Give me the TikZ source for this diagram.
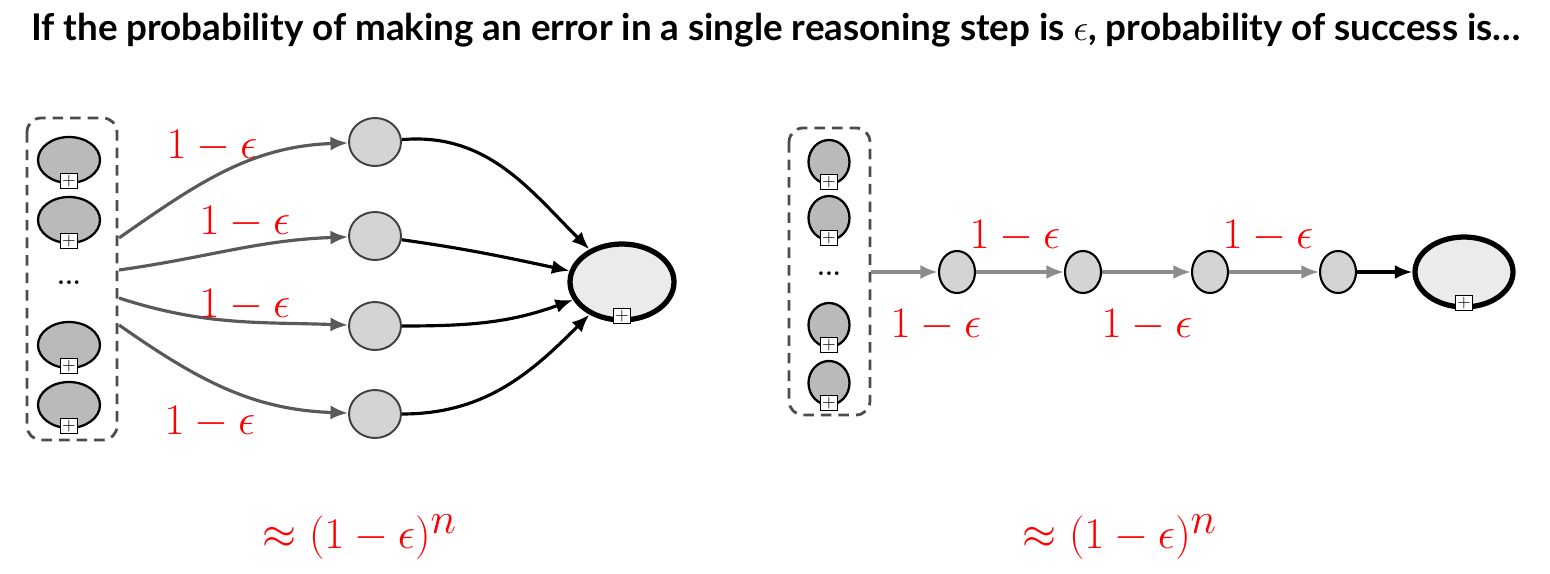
\documentclass[tikz,border=0pt]{standalone}
\usepackage{fontspec}
\setsansfont{Lato}
\usepackage{amsmath}
\usetikzlibrary{arrows.meta,shapes.geometric}
\begin{document}
\begin{tikzpicture}[x=0.02cm,y=-0.02cm,
  pbox/.style={draw,fill=white,inner sep=0.8pt,font=\normalsize},
  garr/.style={-{Latex[length=10pt,width=8pt]},draw=black!65,line width=1.8pt},
  larr/.style={-{Latex[length=10pt,width=8pt]},draw=black!45,line width=1.8pt},
  barr/.style={-{Latex[length=10pt,width=8pt]},line width=1.8pt},
  lab/.style={text=red,font=\fontsize{24}{28}\selectfont},
  dbox/.style={draw=black!70,dash pattern=on 6pt off 4pt,line width=1.6pt,rounded corners=8pt}]
\useasboundingbox (0,0) rectangle (1550,574);
\node (t) at (776,30) {\resizebox{29.8cm}{!}{\sffamily\bfseries If the probability of making an error in a single reasoning step is $\epsilon$, probability of success is\ldots}};
% left group
\draw[dbox] (27,118) rectangle (117,440);
\foreach \y/\n in {160/a,220/b,345/c,405/d}{
  \node[ellipse,draw,line width=1.3pt,fill=black!27,minimum width=1.24cm,minimum height=0.92cm,inner sep=0pt] (L\n) at (69,\y) {};
  \node[pbox] (Lp\n) at (69,\y+21) {$+$};}
\node[font=\Large\bfseries] (ld) at (69,283) {...};
\foreach \y/\n in {142/1,236/2,326/3,414/4}
  \node[ellipse,draw=black!75,line width=1.1pt,fill=black!17,minimum width=1.04cm,minimum height=0.96cm,inner sep=0pt] (M\n) at (375,\y) {};
\node[ellipse,draw,line width=3pt,fill=black!8,minimum width=2.08cm,minimum height=1.52cm,inner sep=0pt] (G) at (622,282) {};
\node[pbox] (Gp) at (622,316) {$+$};
\coordinate (s1) at (119,238); \coordinate (s2) at (119,270);
\coordinate (s3) at (119,298); \coordinate (s4) at (119,325);
\draw[garr] (s1) to[out=35,in=182] (M1);
\draw[garr] (s2) to[out=8,in=182] (M2);
\draw[garr] (s3) to[out=-18,in=178] (M3);
\draw[garr] (s4) to[out=-35,in=178] (M4);
\draw[barr] (M1) to[out=5,in=135] (G);
\draw[barr] (M2) to[out=-8,in=168] (G);
\draw[barr] (M3) to[out=0,in=200] (G);
\draw[barr] (M4) to[out=0,in=225] (G);
\node[lab] at (212,146) {$1-\epsilon$};
\node[lab] at (245,222) {$1-\epsilon$};
\node[lab] at (245,305) {$1-\epsilon$};
\node[lab] at (210,422) {$1-\epsilon$};
\node[text=red,font=\fontsize{40}{46}\selectfont] (f1) at (360,537) {$\approx(1-\epsilon)^n$};
% right group
\draw[dbox] (789,128) rectangle (870,415);
\foreach \y/\n in {162/a,218/b,325/c,383/d}{
  \node[ellipse,draw,line width=1.3pt,fill=black!27,minimum width=0.82cm,minimum height=0.88cm,inner sep=0pt] (R\n) at (829,\y) {};
  \node[pbox] (Rp\n) at (829,\y+20) {$+$};}
\node[font=\Large\bfseries] (rd) at (829,274) {...};
\foreach \x/\n in {957/1,1083/2,1210/3,1338/4}
  \node[ellipse,draw,line width=1.2pt,fill=black!17,minimum width=0.72cm,minimum height=0.84cm,inner sep=0pt] (C\n) at (\x,272) {};
\node[ellipse,draw,line width=3pt,fill=black!8,minimum width=1.96cm,minimum height=1.4cm,inner sep=0pt] (H) at (1464,272) {};
\node[pbox] (Hp) at (1464,303) {$+$};
\coordinate (rs) at (871,272);
\draw[larr] (rs) -- (C1);
\draw[larr] (C1) -- (C2);
\draw[larr] (C2) -- (C3);
\draw[larr] (C3) -- (C4);
\draw[barr] (C4) -- (H);
\node[lab] at (1015,236) {$1-\epsilon$};
\node[lab] at (1268,236) {$1-\epsilon$};
\node[lab] at (936,325) {$1-\epsilon$};
\node[lab] at (1147,325) {$1-\epsilon$};
\node[text=red,font=\fontsize{40}{46}\selectfont] (f2) at (1120,537) {$\approx(1-\epsilon)^n$};
\end{tikzpicture}
\end{document}
